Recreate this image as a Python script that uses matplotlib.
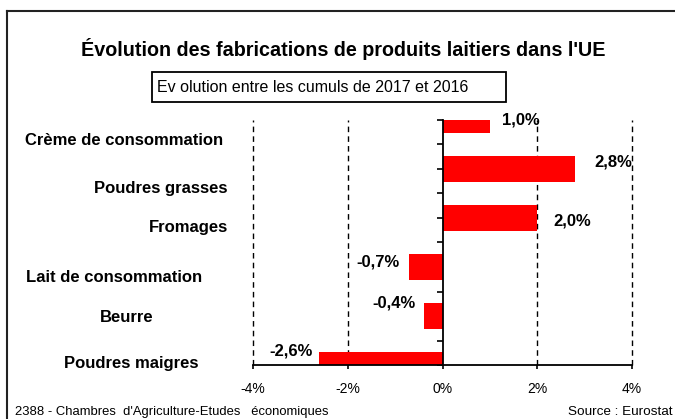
import matplotlib
matplotlib.use("Agg")
import matplotlib.pyplot as plt
from matplotlib.lines import Line2D
from matplotlib.patches import Rectangle

plt.rcParams["font.family"] = ["Liberation Sans Narrow", "Liberation Sans", "DejaVu Sans"]

# ── Data ─────────────────────────────────────────────────────────────────────
categories = [
    "Crème de consommation",
    "Poudres grasses",
    "Fromages",
    "Lait de consommation",
    "Beurre",
    "Poudres maigres",
]
values = [1.0, 2.8, 2.0, -0.7, -0.4, -2.6]
xticks = [-4, -2, 0, 2, 4]
xtick_labels = ["-4%", "-2%", "0%", "2%", "4%"]

# ── Layout (pixels on a 675x419 canvas) ──────────────────────────────────────
W, H = 675, 419
# category label centres (Excel placed them a bit freely)
cat_label_xy = [(124, 140), (161, 188), (188, 227), (114, 278), (127, 317), (131, 363)]
# value label offsets from bar end, in pixels (dx, dy up)
val_offsets = [(12, 0), (19, 7), (16, -3), (-10, 5), (-8, 13), (-7, 14)]


def fx(x):
    return x / W


def fy(y):
    return 1 - y / H


fig = plt.figure(figsize=(W / 100, H / 100), dpi=100)

ax = fig.add_axes([fx(253), fy(365), (632 - 253) / W, (365 - 120) / H])
ypos = list(range(len(categories) - 1, -1, -1))
ax.barh(ypos, values, height=0.55, color="#ff0000", zorder=2)

ax.set_xlim(-4, 4)
ax.set_ylim(0, 5)
for x in [-4, -2, 2, 4]:
    ax.axvline(x, color="black", lw=1, ls=(0, (4, 3)), zorder=1, clip_on=False)

for s in ["top", "right"]:
    ax.spines[s].set_visible(False)
ax.spines["left"].set_position(("data", 0))
ax.spines["left"].set_linewidth(1.3)
ax.spines["left"].set_zorder(3)
ax.spines["bottom"].set_linewidth(1.3)
ax.set_yticks([i * 0.5 for i in range(11)])
ax.set_yticklabels([])
ax.tick_params(axis="y", direction="out", length=4, width=1.2)
ax.set_xticks(xticks)
ax.set_xticklabels(xtick_labels, fontsize=10)
ax.tick_params(axis="x", direction="out", length=3, width=1.2, pad=9)

for v, y, (dx, dy) in zip(values, ypos, val_offsets):
    ax.annotate(
        f"{v:.1f}%".replace(".", ","),
        xy=(v, y),
        xytext=(dx * 0.72, dy * 0.72),
        textcoords="offset points",
        ha="left" if v > 0 else "right",
        va="center",
        fontsize=12,
        fontweight="bold",
        annotation_clip=False,
    )

for name, (x, y) in zip(categories, cat_label_xy):
    fig.text(fx(x), fy(y), name, ha="center", va="center", fontsize=12, fontweight="bold")

# frame
fig.add_artist(Line2D([fx(7), 1], [fy(11), fy(11)], color="#222222", lw=1.5))
fig.add_artist(Line2D([fx(7), fx(7)], [fy(11), 0], color="#222222", lw=1.5))

fig.text(fx(343), fy(49), "Évolution des fabrications de produits laitiers dans l'UE",
         ha="center", va="center", fontsize=14.2, fontweight="bold")

fig.add_artist(Rectangle((fx(152), fy(102)), (506 - 152) / W, 30 / H,
                         transform=fig.transFigure, fill=False, ec="black", lw=1.3))
fig.text(fx(157), fy(88), "Ev olution entre les cumuls de 2017 et 2016",
         ha="left", va="center", fontsize=11.5)

fig.text(fx(15), fy(412), "2388 - Chambres  d'Agriculture-Etudes   économiques",
         ha="left", va="center", fontsize=9.4)
fig.text(fx(672), fy(412), "Source : Eurostat", ha="right", va="center", fontsize=9.7)

fig.savefig("out.png", dpi=100)
